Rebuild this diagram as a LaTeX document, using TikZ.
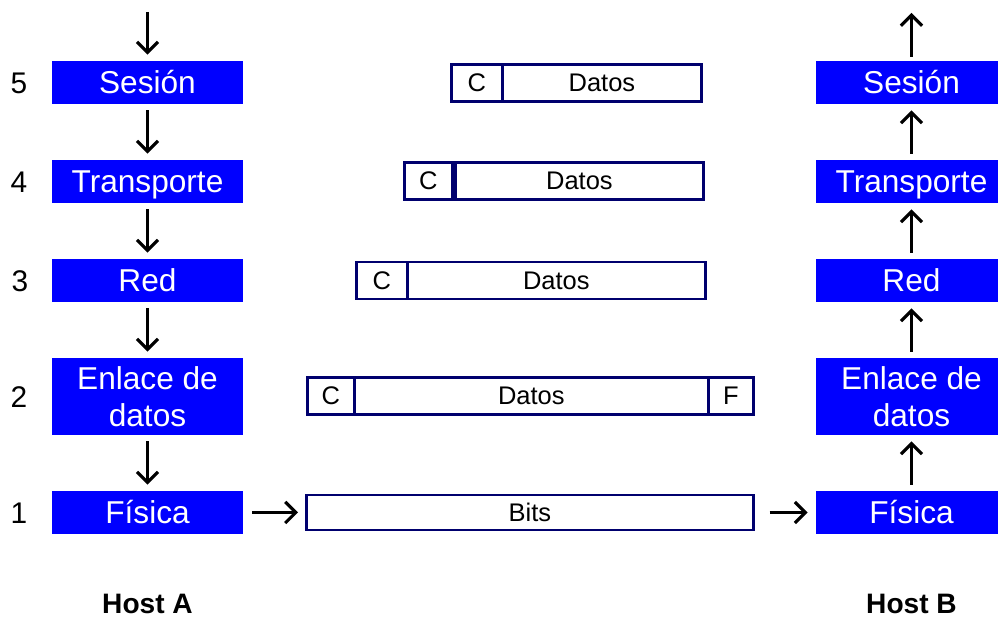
\documentclass[tikz,border=0pt]{standalone}
\usepackage{fontspec}
\setmainfont{Liberation Sans}
\usetikzlibrary{positioning,arrows.meta}
\definecolor{framenavy}{RGB}{0,0,110}

\begin{document}
\begin{tikzpicture}[
  x=0.02cm, y=-0.02cm,
  layer/.style={fill=blue, text=white, minimum width=3.82cm, minimum height=0.86cm,
    inner sep=0pt, font=\fontsize{18}{21}\selectfont},
  onelayer/.style={layer, text height=16pt, text depth=3pt},
  twolayer/.style={layer, align=center, minimum height=1.54cm},
  field/.style={draw=framenavy, line width=1.6pt, fill=white, anchor=west,
    minimum height=0.74cm, inner sep=0pt, font=\fontsize{14.5}{17}\selectfont},
  lnum/.style={font=\fontsize{17}{20}\selectfont},
  host/.style={font=\fontsize{16}{19}\selectfont\bfseries},
  flow/.style={line width=1.4pt,
    -{Straight Barb[length=6pt,width=12pt,line width=1.8pt]},
    shorten <=0.12cm, shorten >=0.12cm},
]
  \useasboundingbox (0,0) rectangle (998,617);

  % Host A stack, top to bottom
  \node[onelayer] (A5) at (147.5, 82.5) {Sesión};
  \node[onelayer] (A4) at (147.5,181.5) {Transporte};
  \node[onelayer] (A3) at (147.5,280.5) {Red};
  \node[twolayer] (A2) at (147.5,396.5) {Enlace de\\datos};
  \node[onelayer] (A1) at (147.5,512.5) {Física};

  % layer numbers
  \node[lnum] (n5) at (19, 83) {5};
  \node[lnum] (n4) at (19,182) {4};
  \node[lnum] (n3) at (20,281) {3};
  \node[lnum] (n2) at (19,397) {2};
  \node[lnum] (n1) at (19,513) {1};

  % Host B stack
  \node[onelayer] (B5) at (911.5, 82.5) {Sesión};
  \node[onelayer] (B4) at (911.5,181.5) {Transporte};
  \node[onelayer] (B3) at (911.5,280.5) {Red};
  \node[twolayer] (B2) at (911.5,396.5) {Enlace de\\datos};
  \node[onelayer] (B1) at (911.5,512.5) {Física};

  % units handed between layers
  \node[field, minimum width=1.02cm] (s5c) at (450, 83) {C};
  \node[field, minimum width=3.98cm] (s5d) at (501, 83) {Datos};

  \node[field, minimum width=0.96cm] (s4c) at (403,181) {C};
  \node[field, minimum width=4.96cm] (s4d) at (454,181) {Datos};

  \node[field, minimum width=1.02cm] (s3c) at (355,280.5) {C};
  \node[field, minimum width=5.96cm] (s3d) at (406,280.5) {Datos};

  \node[field, minimum width=0.94cm] (s2c) at (306,396) {C};
  \node[field, minimum width=7.08cm] (s2d) at (353,396) {Datos};
  \node[field, minimum width=0.90cm] (s2f) at (707,396) {F};

  \node[field, minimum width=8.94cm, minimum height=0.7cm] (bits) at (305,512.5) {Bits};

  % downward flow on A
  \coordinate (inA) at (147.5,12);
  \draw[flow, shorten <=0pt] (inA) -- (A5);
  \draw[flow] (A5) -- (A4);
  \draw[flow] (A4) -- (A3);
  \draw[flow] (A3) -- (A2);
  \draw[flow] (A2) -- (A1);

  % across the wire
  \draw[flow, shorten <=0.18cm, shorten >=0.14cm] (A1) -- (bits);
  \draw[flow, shorten <=0.3cm, shorten >=0.16cm] (bits) -- (B1);

  % upward flow on B
  \coordinate (outB) at (911.5,13);
  \draw[flow] (B1) -- (B2);
  \draw[flow] (B2) -- (B3);
  \draw[flow] (B3) -- (B4);
  \draw[flow] (B4) -- (B5);
  \draw[flow, shorten <=0.08cm, shorten >=0pt] (B5) -- (outB);

  \node[host] (hostA) at (147.5,604) {Host A};
  \node[host] (hostB) at (911.5,604) {Host B};
\end{tikzpicture}
\end{document}
